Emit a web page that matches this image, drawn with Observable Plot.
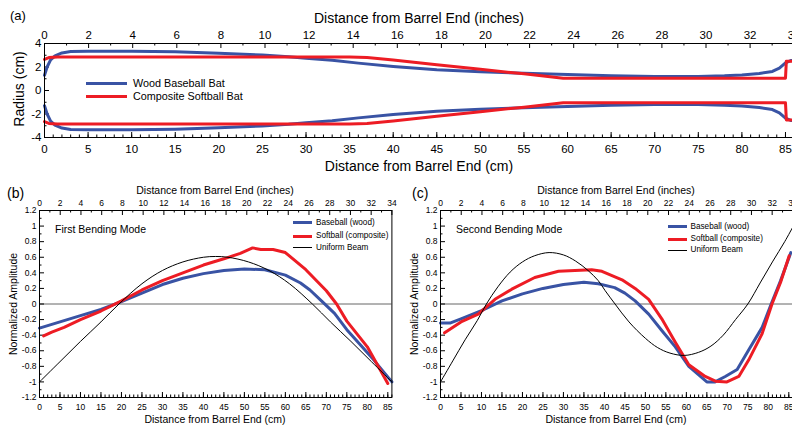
<!DOCTYPE html>
<html><head><meta charset="utf-8">
<script src="https://cdn.jsdelivr.net/npm/d3@7"></script>
<script src="https://cdn.jsdelivr.net/npm/@observablehq/plot@0.6"></script>
<style>
html,body{margin:0;padding:0;background:#fff;}
#fig{position:relative;width:792px;height:429px;overflow:hidden;font-family:"Liberation Sans",Arial,Helvetica,sans-serif;color:#000;background:#fff;}
#fig svg{position:absolute;max-width:none !important;}
.t{position:absolute;white-space:nowrap;line-height:1;}
.c{transform:translate(-50%,-50%);}
.l{transform:translate(0,-50%);}
.r{transform:translate(-50%,-50%) rotate(-90deg);}
.sw{position:absolute;}
</style></head><body><div id="fig"></div>
<script>
// ---------- data ----------
const BLUE = "#3953a4", RED = "#ed1c24";
const CM_MAX = 86, IN_MAX = 34;
const cmLabels = [0,5,10,15,20,25,30,35,40,45,50,55,60,65,70,75,80,85];
const cmMinor = d3.range(0, 87, 1);
const inLabels = [0,2,4,6,8,10,12,14,16,18,20,22,24,26,28,30,32,34];
const inMinor = [1,3,5,7,9,11,13,15,17,19,21,23,25,27,29,31,33];
const radiusTicks = [-4,-2,0,2,4];
const radiusMinor = [-3,-1,1,3];
const ampTicks = [-1.2,-1,-0.8,-0.6,-0.4,-0.2,0,0.2,0.4,0.6,0.8,1,1.2];
const ampMinor = [-1.1,-0.9,-0.7,-0.5,-0.3,-0.1,0.1,0.3,0.5,0.7,0.9,1.1];

// (a) radius profiles [cm, radius cm]
const woodRadius = [[0,1.3],[0.3,2.0],[0.7,2.6],[1.2,2.95],[2,3.2],[3,3.32],[5,3.35],[10,3.35],[15,3.3],[20,3.18],[25,3.02],[28,2.88],[30,2.75],[33,2.58],[36,2.33],[40,2.05],[45,1.77],[50,1.6],[55,1.47],[60,1.36],[65,1.26],[70,1.2],[75,1.2],[78,1.25],[80,1.32],[82,1.45],[83.5,1.62],[84.3,1.9],[85,2.35],[85.6,2.55],[86,2.58]];
const softRadius = [[0,2.65],[0.5,2.8],[1.5,2.85],[35,2.85],[37,2.8],[40,2.6],[45,2.2],[50,1.8],[55,1.42],[59.5,1.05],[85,1.05],[85.1,2.5],[86,2.5]];

// (b) first bending mode [cm, amplitude]
const woodMode1 = [[0,-0.31],[5,-0.23],[10,-0.15],[15,-0.07],[20,0.03],[25,0.14],[30,0.25],[35,0.33],[40,0.39],[45,0.43],[50,0.45],[55,0.44],[60,0.37],[63.7,0.27],[66,0.18],[69,0.03],[72,-0.12],[75,-0.33],[78.4,-0.53],[81.6,-0.72],[86,-1.0]];
const softMode1 = [[1,-0.41],[3,-0.36],[6,-0.3],[10,-0.2],[15,-0.09],[20,0.04],[25,0.18],[30,0.3],[35,0.4],[40,0.5],[45,0.58],[49,0.65],[52,0.72],[54,0.7],[57,0.7],[60,0.66],[65,0.44],[70,0.17],[72.5,0],[75,-0.22],[80,-0.55],[85,-1.02]];
const beamMode1 = [[0,-1],[5,-0.74],[10,-0.48],[15,-0.23],[19.4,0],[25,0.26],[30,0.43],[35,0.54],[40,0.6],[43,0.61],[46,0.6],[51,0.54],[56,0.43],[61,0.26],[66.6,0],[71,-0.23],[76,-0.48],[81,-0.74],[86,-1]];

// (c) second bending mode
const woodMode2 = [[0,-0.245],[2.3,-0.245],[5,-0.19],[10,-0.085],[15,0.04],[20,0.13],[25,0.2],[30,0.25],[35,0.28],[38.5,0.26],[42.5,0.21],[45,0.14],[47.5,0.04],[50.8,-0.13],[54,-0.34],[57.3,-0.55],[60.6,-0.8],[65,-1.0],[67,-1.0],[69.5,-0.93],[72.4,-0.84],[75.2,-0.59],[78.5,-0.3],[80.7,0],[83,0.3],[85.5,0.66]];
const softMode2 = [[1,-0.37],[5,-0.23],[9.2,-0.13],[13.3,0.06],[17.4,0.19],[23,0.34],[28.8,0.42],[32.8,0.43],[36.9,0.44],[39.4,0.42],[44.3,0.31],[47.5,0.2],[50.8,0.06],[54,-0.19],[57.3,-0.49],[60.6,-0.78],[64.6,-0.93],[67.1,-0.99],[69.9,-1.0],[72.8,-0.93],[75.2,-0.72],[78.5,-0.38],[80.9,0],[83,0.28],[85.1,0.62]];
const beamMode2 = [[0,-1],[3,-0.73],[6,-0.46],[9,-0.21],[11.2,0],[14,0.22],[17,0.41],[20,0.54],[23,0.62],[26.5,0.66],[30,0.63],[33,0.55],[36,0.43],[38.5,0.3],[40.2,0.17],[42.6,0],[46,-0.23],[50,-0.44],[53,-0.56],[56,-0.63],[59.5,-0.66],[63,-0.62],[66,-0.54],[69,-0.4],[72,-0.2],[75,0],[78,0.27],[81,0.54],[84,0.8],[86,0.99]];

// ---------- helpers ----------
const fig = document.getElementById("fig");
const FONT = '"Liberation Sans",Arial,Helvetica,sans-serif';
const inToCm = i => i * CM_MAX / IN_MAX;
const fmt = d => String(Math.round(d * 10) / 10);

function panel(o) {
  const plotW = o.width - o.ml - o.mr, plotH = o.height - o.mt - o.mb;
  const [y0, y1] = o.yDomain;
  const dy = (y1 - y0) / plotH, dx = CM_MAX / plotW;
  const L = 5, l = 2.5;
  const svg = Plot.plot({
    width: o.width, height: o.height,
    marginTop: o.mt, marginBottom: o.mb, marginLeft: o.ml, marginRight: o.mr,
    x: {domain: [0, CM_MAX]},
    y: {domain: o.yDomain},
    style: {fontFamily: FONT, fontSize: o.fontSize + "px", color: "#000", background: "transparent", overflow: "visible", maxWidth: "none"},
    marks: [
      ...(o.under || []),
      Plot.ruleX(cmMinor, {x: d => d, y1: y0, y2: y0 + l * dy, stroke: "#000"}),
      Plot.ruleX(cmLabels, {x: d => d, y1: y0, y2: y0 + L * dy, stroke: "#000"}),
      Plot.ruleX(inMinor.map(inToCm), {x: d => d, y1: y1, y2: y1 - l * dy, stroke: "#000"}),
      Plot.ruleX(inLabels.map(inToCm), {x: d => d, y1: y1, y2: y1 - L * dy, stroke: "#000"}),
      Plot.ruleY(o.yMinor, {y: d => d, x1: 0, x2: l * dx, stroke: "#000"}),
      Plot.ruleY(o.yTicks, {y: d => d, x1: 0, x2: L * dx, stroke: "#000"}),
      Plot.axisX(cmLabels, {anchor: "bottom", tickSize: 0, tickPadding: o.padB, label: null, tickFormat: d => String(d)}),
      Plot.axisX(inLabels.map(inToCm), {anchor: "top", tickSize: 0, tickPadding: o.padT, label: null, tickFormat: d => String(Math.round(d * IN_MAX / CM_MAX))}),
      Plot.axisY(o.yTicks, {anchor: "left", tickSize: 0, tickPadding: o.padL, label: null, tickFormat: fmt}),
      ...o.marks,
      Plot.frame({stroke: "#000", strokeWidth: 1})
    ]
  });
  svg.style.left = o.left + "px";
  svg.style.top = o.top + "px";
  svg.style.maxWidth = "none";
  svg.style.width = o.width + "px";
  svg.style.height = o.height + "px";
  fig.appendChild(svg);
}

function text(str, x, y, size, cls) {
  const d = document.createElement("div");
  d.className = "t " + cls;
  d.style.left = x + "px"; d.style.top = y + "px"; d.style.fontSize = size + "px";
  d.textContent = str;
  fig.appendChild(d);
}
function swatch(x, y, w, h, color) {
  const d = document.createElement("div");
  d.className = "sw";
  d.style.left = x + "px"; d.style.top = (y - h / 2) + "px";
  d.style.width = w + "px"; d.style.height = h + "px"; d.style.background = color;
  fig.appendChild(d);
}
const lineOpts = (color, w) => ({x: d => d[0], y: d => d[1], stroke: color, strokeWidth: w, strokeLinejoin: "round"});

// ---------- panel (a) ----------
panel({
  left: 0, top: 0, width: 800, height: 175, mt: 43, mb: 38, ml: 44, mr: 6.3,
  yDomain: [-4, 4], yTicks: radiusTicks, yMinor: radiusMinor,
  fontSize: 11.5, padB: 7, padT: 4.5, padL: 3,
  marks: [
    Plot.line(woodRadius, lineOpts(BLUE, 3)),
    Plot.line(woodRadius, {...lineOpts(BLUE, 3), y: d => -d[1]}),
    Plot.line(softRadius, lineOpts(RED, 3)),
    Plot.line(softRadius, {...lineOpts(RED, 3), y: d => -d[1]})
  ]
});
text("(a)", 10, 15, 13, "l");
text("Distance from Barrel End (inches)", 419, 18, 14, "c");
text("Distance from Barrel End (cm)", 419, 166, 14, "c");
text("Radius (cm)", 19, 89, 14, "r");
swatch(86, 83, 41, 3, BLUE);
swatch(86, 96, 41, 3, RED);
text("Wood Baseball Bat", 133, 83, 10.8, "l");
text("Composite Softball Bat", 133, 96, 10.8, "l");

// ---------- panel (b) ----------
const zeroRule = [Plot.ruleY([0], {stroke: "#666", strokeWidth: 1})];
panel({
  left: 0, top: 180, width: 397, height: 249, mt: 30, mb: 32, ml: 39, mr: 5.6,
  yDomain: [-1.2, 1.2], yTicks: ampTicks, yMinor: ampMinor,
  fontSize: 8.5, padB: 6, padT: 5, padL: 3,
  under: zeroRule,
  marks: [
    Plot.line(woodMode1, lineOpts(BLUE, 3)),
    Plot.line(softMode1, lineOpts(RED, 3)),
    Plot.line(beamMode1, {...lineOpts("#000", 1), curve: "catmull-rom"})
  ]
});
text("(b)", 7, 193, 14, "l");
text("Distance from Barrel End (inches)", 215, 189.5, 10.5, "c");
text("Distance from Barrel End (cm)", 215, 418.5, 10.5, "c");
text("Normalized Amplitude", 12.5, 303.5, 10.5, "r");
text("First Bending Mode", 55, 229, 10.5, "l");
swatch(293, 222.7, 19, 3, BLUE);
swatch(293, 236, 19, 3, RED);
swatch(293, 247.7, 19, 1, "#000");
text("Baseball (wood)", 316, 222.7, 8.2, "l");
text("Softball (composite)", 316, 236, 8.2, "l");
text("Uniform Beam", 316, 247.7, 8.2, "l");

// ---------- panel (c) ----------
panel({
  left: 401, top: 180, width: 397, height: 249, mt: 30, mb: 32, ml: 39, mr: 5.6,
  yDomain: [-1.2, 1.2], yTicks: ampTicks, yMinor: ampMinor,
  fontSize: 8.5, padB: 6, padT: 5, padL: 3,
  under: zeroRule,
  marks: [
    Plot.line(woodMode2, lineOpts(BLUE, 3)),
    Plot.line(softMode2, lineOpts(RED, 3)),
    Plot.line(beamMode2, {...lineOpts("#000", 1), curve: "catmull-rom"})
  ]
});
text("(c)", 412, 193, 14, "l");
text("Distance from Barrel End (inches)", 616, 189.5, 10.5, "c");
text("Distance from Barrel End (cm)", 616, 418.5, 10.5, "c");
text("Normalized Amplitude", 414, 303.5, 10.5, "r");
text("Second Bending Mode", 456, 229, 10.5, "l");
swatch(668, 226.7, 19, 3, BLUE);
swatch(668, 239, 19, 3, RED);
swatch(668, 250, 19, 1, "#000");
text("Baseball (wood)", 690.5, 226.7, 8.2, "l");
text("Softball (composite)", 690.5, 239, 8.2, "l");
text("Uniform Beam", 690.5, 250, 8.2, "l");
</script></body></html>
